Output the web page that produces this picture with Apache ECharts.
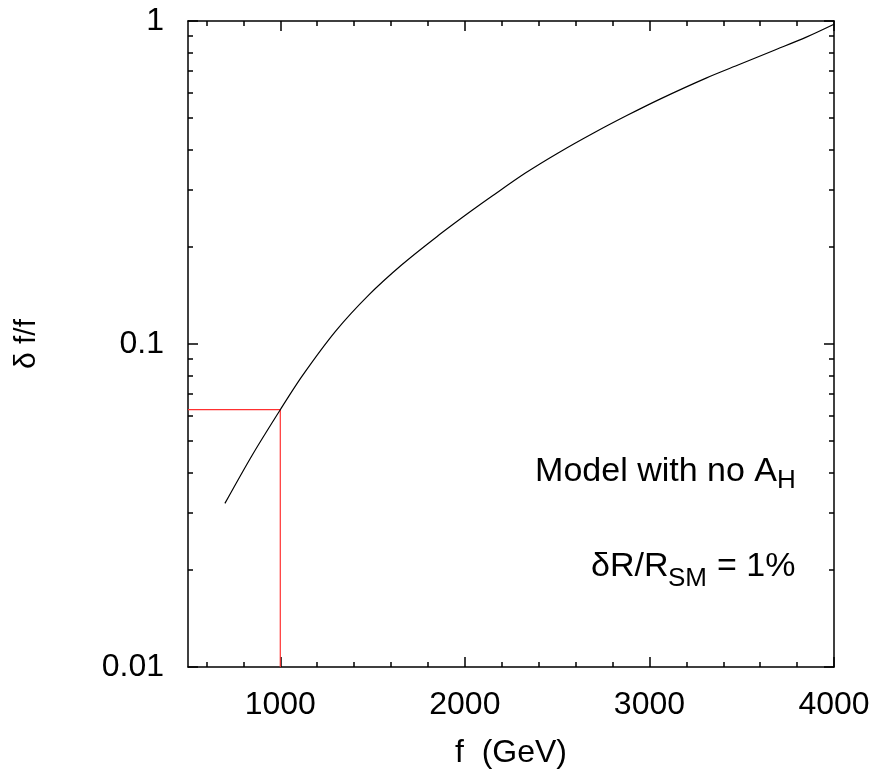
<!DOCTYPE html>
<html>
<head>
<meta charset="utf-8">
<script src="https://cdn.jsdelivr.net/npm/echarts@6/dist/echarts.min.js"></script>
<style>
html,body{margin:0;padding:0;background:#fff;}
#chart{width:879px;height:774px;}
</style>
</head>
<body>
<div id="chart"></div>
<script>
// ---- data ----
var fValues  = [700, 850, 1000, 1120, 1300, 1480, 1660, 1850, 2030, 2150, 2330, 2510, 2700, 2880, 3060, 3310, 3490, 3670, 3850, 4000];
var dfValues = [0.0321, 0.0455, 0.0626, 0.0798, 0.1096, 0.1419, 0.1762, 0.2153, 0.257, 0.2877, 0.3388, 0.3917, 0.4508, 0.5105, 0.5741, 0.6668, 0.7345, 0.8091, 0.8913, 0.977];
var guideF = 1000;
var guideDf = 0.0626;
var xMajorTicks = [1000, 2000, 3000, 4000];
var xMinorTicks = [600, 800, 1200, 1400, 1600, 1800, 2200, 2400, 2600, 2800, 3200, 3400, 3600, 3800];
var yMajorTicks = [0.01, 0.1, 1];
var yMinorTicks = [0.02, 0.03, 0.04, 0.05, 0.06, 0.07, 0.08, 0.09, 0.2, 0.3, 0.4, 0.5, 0.6, 0.7, 0.8, 0.9];
var xLabel = 'f  (GeV)';
var yLabel = 'δ f/f';

var FONT = 'Liberation Sans, Arial, Helvetica, sans-serif';
var chart = echarts.init(document.getElementById('chart'), null, {renderer: 'canvas'});

function xAx(pos, ticks, len, showLine, showLabel, extra) {
  var a = {
    type: 'value', position: pos, min: 500, max: 4000,
    splitLine: {show: false},
    axisLine: {show: showLine, onZero: false, lineStyle: {color: '#000', width: 1.5}},
    axisTick: {show: true, inside: true, length: len, customValues: ticks, lineStyle: {color: '#000', width: 1.5}},
    axisLabel: showLabel ? {show: true, customValues: ticks, fontSize: 32, color: '#000', fontFamily: FONT, margin: 22,
      formatter: function (v) { return String(v); }} : {show: false}
  };
  return Object.assign(a, extra || {});
}
function yAx(pos, ticks, len, showLine, showLabel, extra) {
  var a = {
    type: 'log', logBase: 10, position: pos, min: 0.01, max: 1,
    splitLine: {show: false},
    axisLine: {show: showLine, onZero: false, lineStyle: {color: '#000', width: 1.5}},
    axisTick: {show: true, inside: true, length: len, customValues: ticks, lineStyle: {color: '#000', width: 1.5}},
    axisLabel: showLabel ? {show: true, customValues: ticks, fontSize: 32, color: '#000', fontFamily: FONT, margin: 24,
      formatter: function (v) { return String(+v.toPrecision(3)); }} : {show: false}
  };
  return Object.assign(a, extra || {});
}

var option = {
  animation: false,
  backgroundColor: '#fff',
  grid: {left: 188, right: 45, top: 21, bottom: 107, containLabel: false},
  xAxis: [
    xAx('bottom', xMajorTicks, 10, true, true, {
      name: xLabel, nameLocation: 'middle', nameGap: 70,
      nameTextStyle: {fontSize: 32, color: '#000', fontFamily: FONT}
    }),
    xAx('bottom', xMinorTicks, 5, false, false),
    xAx('top', xMajorTicks, 10, true, false),
    xAx('top', xMinorTicks, 5, false, false)
  ],
  yAxis: [
    yAx('left', yMajorTicks, 10, true, true, {
      name: yLabel, nameLocation: 'middle', nameGap: 146, nameRotate: 90,
      nameTextStyle: {fontSize: 30, color: '#000', fontFamily: FONT}
    }),
    yAx('left', yMinorTicks, 5, false, false),
    yAx('right', yMajorTicks, 10, true, false),
    yAx('right', yMinorTicks, 5, false, false)
  ],
  series: [
    {
      type: 'line', xAxisIndex: 0, yAxisIndex: 0,
      data: fValues.map(function (f, i) { return [f, dfValues[i]]; }),
      showSymbol: false, smooth: 0.3,
      lineStyle: {color: '#000', width: 1.2}, z: 3
    },
    {
      type: 'line', xAxisIndex: 0, yAxisIndex: 0,
      data: [[500, guideDf], [guideF, guideDf], [guideF, 0.01]],
      showSymbol: false,
      lineStyle: {color: '#ff3030', width: 1.2}, z: 2
    }
  ],
  graphic: [
    {type: 'text', x: 777, y: 472, style: {text: 'Model with no A', fontSize: 34, fill: '#000', fontFamily: FONT, align: 'right', verticalAlign: 'middle'}},
    {type: 'text', x: 777, y: 481, style: {text: 'H', fontSize: 26, fill: '#000', fontFamily: FONT, align: 'left', verticalAlign: 'middle'}},
    {type: 'text', x: 591, y: 567, style: {text: 'δR/R', fontSize: 34, fill: '#000', fontFamily: FONT, align: 'left', verticalAlign: 'middle'}},
    {type: 'text', x: 668, y: 579, style: {text: 'SM', fontSize: 26, fill: '#000', fontFamily: FONT, align: 'left', verticalAlign: 'middle'}},
    {type: 'text', x: 717, y: 567, style: {text: '= 1%', fontSize: 34, fill: '#000', fontFamily: FONT, align: 'left', verticalAlign: 'middle'}}
  ]
};
chart.setOption(option);
</script>
</body>
</html>
